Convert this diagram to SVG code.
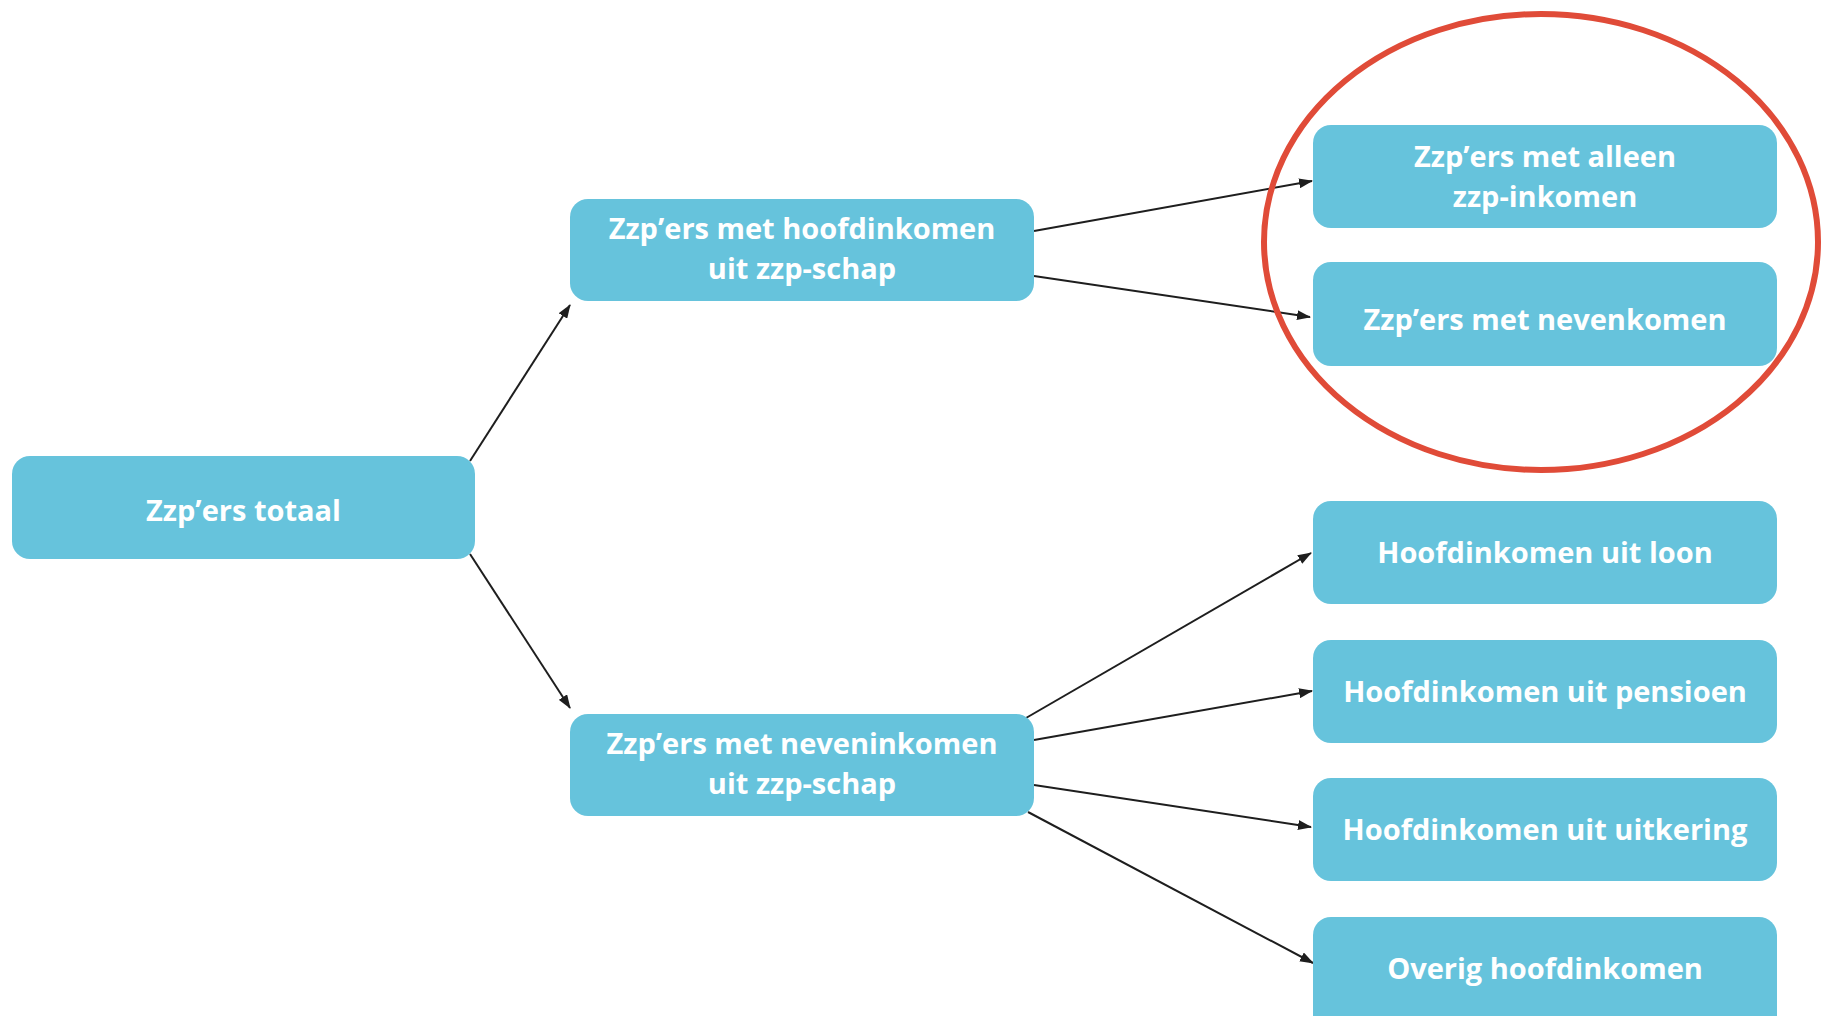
<svg xmlns="http://www.w3.org/2000/svg" width="1821" height="1016" viewBox="0 0 1821 1016">
<style>
.box{fill:#66C3DC;}
.lbl{font-family:"Open Sans","Liberation Sans",sans-serif;font-weight:700;font-size:29px;fill:#ffffff;text-anchor:middle;}
.con{stroke:#1e1e1e;stroke-width:2;fill:none;marker-end:url(#arr);}
</style>
<defs>
<marker id="arr" markerUnits="userSpaceOnUse" markerWidth="14" markerHeight="10" refX="13" refY="5" orient="auto">
<path d="M0,0 L14,5 L0,10 z" fill="#1e1e1e"/>
</marker>
</defs>
<rect width="1821" height="1016" fill="#ffffff"/>
<g id="connectors">
<line class="con" x1="470" y1="461" x2="570" y2="305"/>
<line class="con" x1="470" y1="554" x2="570" y2="708"/>
<line class="con" x1="1034" y1="231" x2="1312" y2="181"/>
<line class="con" x1="1034" y1="276" x2="1310" y2="317"/>
<line class="con" x1="1026" y1="718" x2="1311" y2="553"/>
<line class="con" x1="1034" y1="740" x2="1312" y2="691"/>
<line class="con" x1="1034" y1="785" x2="1311" y2="827"/>
<line class="con" x1="1028" y1="812" x2="1313" y2="963"/>
</g>
<g id="node-totaal">
<rect class="box" x="12" y="456" width="463" height="103" rx="18"/>
<text class="lbl" x="243.5" y="521">Zzp’ers totaal</text>
</g>
<g id="node-hoofd">
<rect class="box" x="570" y="199" width="464" height="102" rx="18"/>
<text class="lbl" x="802" y="239">Zzp’ers met hoofdinkomen</text>
<text class="lbl" x="802" y="279">uit zzp-schap</text>
</g>
<g id="node-neven">
<rect class="box" x="570" y="714" width="464" height="102" rx="18"/>
<text class="lbl" x="802" y="754">Zzp’ers met neveninkomen</text>
<text class="lbl" x="802" y="794">uit zzp-schap</text>
</g>
<g id="node-alleen">
<rect class="box" x="1313" y="125" width="464" height="103" rx="18"/>
<text class="lbl" x="1545" y="167">Zzp’ers met alleen</text>
<text class="lbl" x="1545" y="207">zzp-inkomen</text>
</g>
<g id="node-nevenkomen">
<rect class="box" x="1313" y="262" width="464" height="104" rx="18"/>
<text class="lbl" x="1545" y="330">Zzp’ers met nevenkomen</text>
</g>
<g id="node-loon">
<rect class="box" x="1313" y="501" width="464" height="103" rx="18"/>
<text class="lbl" x="1545" y="563">Hoofdinkomen uit loon</text>
</g>
<g id="node-pensioen">
<rect class="box" x="1313" y="640" width="464" height="103" rx="18"/>
<text class="lbl" x="1545" y="702">Hoofdinkomen uit pensioen</text>
</g>
<g id="node-uitkering">
<rect class="box" x="1313" y="778" width="464" height="103" rx="18"/>
<text class="lbl" x="1545" y="840">Hoofdinkomen uit uitkering</text>
</g>
<g id="node-overig">
<rect class="box" x="1313" y="917" width="464" height="120" rx="18"/>
<text class="lbl" x="1545" y="979">Overig hoofdinkomen</text>
</g>
<ellipse id="highlight" cx="1541" cy="242" rx="277" ry="228" fill="none" stroke="#E04B38" stroke-width="6"/>
</svg>
